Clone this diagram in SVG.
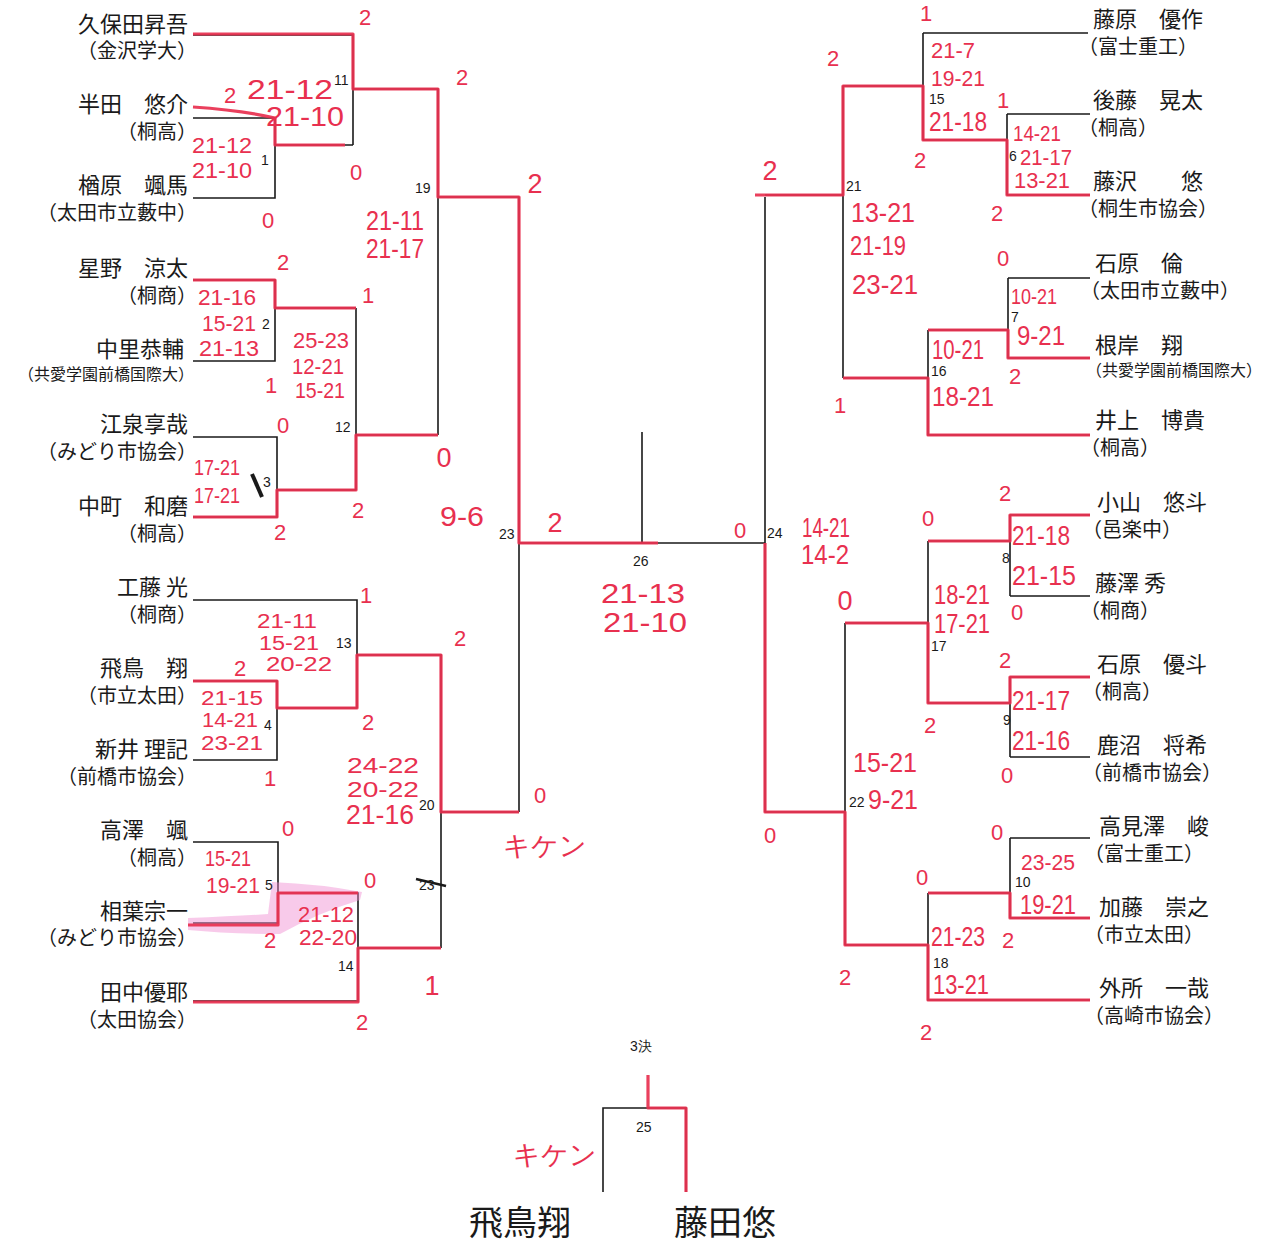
<svg xmlns="http://www.w3.org/2000/svg" width="1284" height="1247" viewBox="0 0 1284 1247">
<style>
.bk{fill:none;stroke:#1a1a1a;stroke-width:1.6}
.rd{fill:none;stroke:#e8304f;stroke-width:3.2;stroke-linejoin:round;opacity:0.92}
.nm{font-family:"Noto Sans CJK JP","Noto Sans",sans-serif;font-size:22px;fill:#1a1a1a}
.af{font-family:"Noto Sans CJK JP","Noto Sans",sans-serif;font-size:20px;fill:#1a1a1a}
.afs{font-family:"Noto Sans CJK JP","Noto Sans",sans-serif;font-size:16px;fill:#1a1a1a}
.L{text-anchor:end}
.mn{font-family:"Liberation Sans",Arial,sans-serif;font-size:14px;fill:#1a1a1a}
.r{font-family:"Liberation Sans",Arial,sans-serif;font-size:22px;fill:#e8304f;text-anchor:middle}
.rs{font-family:"Liberation Sans",Arial,sans-serif;font-size:20px;fill:#e8304f;text-anchor:middle}
.rb{font-family:"Liberation Sans",Arial,sans-serif;font-size:27px;fill:#e8304f;text-anchor:middle}
.hw{font-family:"Noto Sans CJK JP",sans-serif;font-size:34px;fill:#1a1a1a;text-anchor:middle}
</style>
<rect width="1284" height="1247" fill="#ffffff"/>

<g id="connectors">
<path class="bk" d="M193,35 H353 V145 M193,118 H275 V198 H193 M275,145 H353 M353,89 H438 V435 M438,197 H519"/>
<path class="bk" d="M193,280 H275 V361 H193 M275,308 H356 M193,437 H277 V517 H193 M277,490 H356 M356,308 V490 M356,435 H438"/>
<path class="bk" d="M519,197 V812 M519,543 H765 M642,432 V543"/>
<path class="bk" d="M193,600 H357 V708 M193,681 H277 V760 H193 M277,708 H357 M357,655 H441 V948 M441,812 H519"/>
<path class="bk" d="M193,842 H278 V923 H193 M278,893 H358 V1001 H193 M358,948 H441"/>
<path class="bk" d="M765,197 V812 M765,195 H843 M843,86 V378 M843,86 H923 M923,33 V140 M923,33 H1088 M923,140 H1007 M1007,114 V195 M1007,114 H1090 M1007,195 H1090"/>
<path class="bk" d="M843,378 H928 M928,330 V435 H1090 M928,330 H1008 M1008,278 V358 M1008,278 H1090 M1008,358 H1090"/>
<path class="bk" d="M765,812 H845 M845,623 V945 M845,623 H928 M928,541 V703 M928,541 H1010 M928,703 H1010 M1010,515 V596 M1010,515 H1090 M1010,596 H1090 M1010,677 V757 M1010,677 H1090 M1010,757 H1090"/>
<path class="bk" d="M845,945 H928 M928,893 V1000 H1090 M928,893 H1010 M1010,838 V918 M1010,838 H1090 M1010,918 H1090"/>
<path class="bk" d="M603,1192 V1108 H686 V1192"/>
</g>

<g id="winner-marks">
<path d="M272,882 Q320,884 362,892 L360,900 Q320,912 280,934 Q230,934 188,930 L188,918 Q240,916 268,914 Z" fill="#f08ad0" opacity="0.45"/>
<path class="rd" d="M193,34 H353 V89 H438 V197 H519 V543 H658"/>
<path class="rd" d="M193,107 Q240,110 275,118 V145 H345"/>
<path class="rd" d="M193,280 H275 V308 H356"/>
<path class="rd" d="M193,517 H277 V490 H356 V435 H438"/>
<path class="rd" d="M193,681 H277 V708 H357 V655 H441 V812 H519"/>
<path class="rd" d="M188,925 H278 V893 H358"/>
<path class="rd" d="M193,1002 H358 V948 H441"/>
<path class="rd" d="M755,195 H843 V86 H923 V140 H1007 V195 H1090"/>
<path class="rd" d="M843,378 H928 V435 H1090"/>
<path class="rd" d="M928,330 H1008 V358 H1090"/>
<path class="rd" d="M765,543 V812 H845 V945 H928 V1000 H1090"/>
<path class="rd" d="M928,893 H1010 V918 H1090"/>
<path class="rd" d="M845,623 H928 V703 H1010 V677 H1090"/>
<path class="rd" d="M928,541 H1010 V515 H1090"/>
<path class="rd" d="M648,1075 V1108 H686 V1192"/>
<line x1="252" y1="474" x2="262" y2="497" stroke="#1a1a1a" stroke-width="4"/>
</g>

<g id="p-kubota"><text class="nm L" x="188" y="32">久保田昇吾</text><text class="af L" x="197" y="58">（金沢学大）</text></g>
<g id="p-handa"><text class="nm L" x="188" y="112">半田　悠介</text><text class="af L" x="197" y="139">（桐高）</text></g>
<g id="p-narahara"><text class="nm L" x="188" y="193">楢原　颯馬</text><text class="af L" x="197" y="220">（太田市立藪中）</text></g>
<g id="p-hoshino"><text class="nm L" x="188" y="276">星野　涼太</text><text class="af L" x="197" y="303">（桐商）</text></g>
<g id="p-nakazato"><text class="nm L" x="184" y="357">中里恭輔</text><text class="afs L" x="194" y="380">（共愛学園前橋国際大）</text></g>
<g id="p-izumi"><text class="nm L" x="188" y="432">江泉享哉</text><text class="af L" x="197" y="459">（みどり市協会）</text></g>
<g id="p-nakamachi"><text class="nm L" x="188" y="514">中町　和磨</text><text class="af L" x="197" y="541">（桐高）</text></g>
<g id="p-kudo"><text class="nm L" x="188" y="595">工藤 光</text><text class="af L" x="197" y="622">（桐商）</text></g>
<g id="p-asuka"><text class="nm L" x="188" y="676">飛鳥　翔</text><text class="af L" x="197" y="703">（市立太田）</text></g>
<g id="p-arai"><text class="nm L" x="188" y="757">新井 理記</text><text class="af L" x="197" y="784">（前橋市協会）</text></g>
<g id="p-takazawa"><text class="nm L" x="188" y="838">高澤　颯</text><text class="af L" x="197" y="865">（桐高）</text></g>
<g id="p-aiba"><text class="nm L" x="188" y="919">相葉宗一</text><text class="af L" x="197" y="945">（みどり市協会）</text></g>
<g id="p-tanaka"><text class="nm L" x="188" y="1000">田中優耶</text><text class="af L" x="197" y="1027">（太田協会）</text></g>

<g id="p-fujiwara"><text class="nm" x="1093" y="27">藤原　優作</text><text class="af" x="1078" y="54">（富士重工）</text></g>
<g id="p-goto"><text class="nm" x="1093" y="108">後藤　晃太</text><text class="af" x="1078" y="135">（桐高）</text></g>
<g id="p-fujisawa"><text class="nm" x="1093" y="189">藤沢　　悠</text><text class="af" x="1078" y="216">（桐生市協会）</text></g>
<g id="p-ishihara1"><text class="nm" x="1095" y="271">石原　倫</text><text class="af" x="1080" y="298">（太田市立藪中）</text></g>
<g id="p-negishi"><text class="nm" x="1095" y="353">根岸　翔</text><text class="afs" x="1086" y="376">（共愛学園前橋国際大）</text></g>
<g id="p-inoue"><text class="nm" x="1095" y="428">井上　博貴</text><text class="af" x="1080" y="455">（桐高）</text></g>
<g id="p-koyama"><text class="nm" x="1097" y="510">小山　悠斗</text><text class="af" x="1082" y="537">（邑楽中）</text></g>
<g id="p-fujisawa2"><text class="nm" x="1095" y="591">藤澤 秀</text><text class="af" x="1080" y="618">（桐商）</text></g>
<g id="p-ishihara2"><text class="nm" x="1097" y="672">石原　優斗</text><text class="af" x="1082" y="699">（桐高）</text></g>
<g id="p-kanuma"><text class="nm" x="1097" y="753">鹿沼　将希</text><text class="af" x="1082" y="780">（前橋市協会）</text></g>
<g id="p-takamizawa"><text class="nm" x="1099" y="834">高見澤　峻</text><text class="af" x="1084" y="861">（富士重工）</text></g>
<g id="p-kato"><text class="nm" x="1099" y="915">加藤　崇之</text><text class="af" x="1084" y="942">（市立太田）</text></g>
<g id="p-todokoro"><text class="nm" x="1099" y="996">外所　一哉</text><text class="af" x="1084" y="1023">（高崎市協会）</text></g>

<g id="match-numbers">
<text class="mn" x="334" y="85">11</text>
<text class="mn" x="261" y="165">1</text>
<text class="mn" x="415" y="193">19</text>
<text class="mn" x="262" y="329">2</text>
<text class="mn" x="335" y="432">12</text>
<text class="mn" x="263" y="487">3</text>
<text class="mn" x="499" y="539">23</text>
<text class="mn" x="336" y="648">13</text>
<text class="mn" x="264" y="730">4</text>
<text class="mn" x="419" y="810">20</text>
<text class="mn" x="265" y="890">5</text>
<text class="mn" x="338" y="971">14</text>
<text class="mn" x="419" y="890">23</text>
<line x1="416" y1="879" x2="446" y2="886" stroke="#1a1a1a" stroke-width="2.5"/>
<text class="mn" x="633" y="566">26</text>
<text class="mn" x="767" y="538">24</text>
<text class="mn" x="846" y="191">21</text>
<text class="mn" x="929" y="104">15</text>
<text class="mn" x="1009" y="161">6</text>
<text class="mn" x="1011" y="322">7</text>
<text class="mn" x="931" y="376">16</text>
<text class="mn" x="1002" y="563">8</text>
<text class="mn" x="931" y="651">17</text>
<text class="mn" x="1003" y="725">9</text>
<text class="mn" x="849" y="807">22</text>
<text class="mn" x="1015" y="887">10</text>
<text class="mn" x="933" y="968">18</text>
<text class="mn" x="636" y="1132">25</text>
<text class="mn" x="630" y="1051" font-size="15">3決</text>
</g>

<g id="scores-left">
<text class="r" x="365" y="25">2</text>
<text class="r" x="462" y="85">2</text>
<text class="r" x="230" y="103" font-size="18">2</text>
<text class="rb" x="290" y="99" font-size="30" textLength="86" lengthAdjust="spacingAndGlyphs">21-12</text>
<text class="rb" x="305" y="126" font-size="30" textLength="78" lengthAdjust="spacingAndGlyphs">21-10</text>
<text class="r" x="222" y="153" textLength="60" lengthAdjust="spacingAndGlyphs">21-12</text>
<text class="r" x="222" y="178" textLength="60" lengthAdjust="spacingAndGlyphs">21-10</text>
<text class="r" x="356" y="180">0</text>
<text class="r" x="268" y="228">0</text>
<text class="rb" x="535" y="193">2</text>
<text class="rb" x="395" y="230" textLength="58" lengthAdjust="spacingAndGlyphs">21-11</text>
<text class="rb" x="395" y="258" textLength="58" lengthAdjust="spacingAndGlyphs">21-17</text>
<text class="r" x="283" y="270">2</text>
<text class="r" x="368" y="303">1</text>
<text class="r" x="227" y="305" textLength="58" lengthAdjust="spacingAndGlyphs">21-16</text>
<text class="r" x="229" y="331" textLength="54" lengthAdjust="spacingAndGlyphs">15-21</text>
<text class="r" x="229" y="356" textLength="60" lengthAdjust="spacingAndGlyphs">21-13</text>
<text class="r" x="321" y="348" textLength="56" lengthAdjust="spacingAndGlyphs">25-23</text>
<text class="r" x="318" y="374" textLength="52" lengthAdjust="spacingAndGlyphs">12-21</text>
<text class="r" x="320" y="398" textLength="50" lengthAdjust="spacingAndGlyphs">15-21</text>
<text class="r" x="271" y="393">1</text>
<text class="r" x="283" y="433">0</text>
<text class="rb" x="444" y="467">0</text>
<text class="r" x="217" y="475" textLength="46" lengthAdjust="spacingAndGlyphs">17-21</text>
<text class="r" x="217" y="503" textLength="46" lengthAdjust="spacingAndGlyphs">17-21</text>
<text class="r" x="358" y="518">2</text>
<text class="r" x="280" y="540">2</text>
<text class="rb" x="462" y="526" textLength="44" lengthAdjust="spacingAndGlyphs">9-6</text>
<text class="rb" x="555" y="532">2</text>
<text class="r" x="366" y="603">1</text>
<text class="rs" x="287" y="628" textLength="60" lengthAdjust="spacingAndGlyphs">21-11</text>
<text class="rs" x="289" y="650" textLength="60" lengthAdjust="spacingAndGlyphs">15-21</text>
<text class="rs" x="299" y="671" textLength="66" lengthAdjust="spacingAndGlyphs">20-22</text>
<text class="r" x="240" y="676">2</text>
<text class="r" x="460" y="646">2</text>
<text class="rs" x="232" y="705" textLength="62" lengthAdjust="spacingAndGlyphs">21-15</text>
<text class="rs" x="230" y="727" textLength="56" lengthAdjust="spacingAndGlyphs">14-21</text>
<text class="rs" x="232" y="750" textLength="62" lengthAdjust="spacingAndGlyphs">23-21</text>
<text class="r" x="368" y="730">2</text>
<text class="r" x="270" y="786">1</text>
<text class="r" x="383" y="773" textLength="72" lengthAdjust="spacingAndGlyphs">24-22</text>
<text class="r" x="383" y="797" textLength="72" lengthAdjust="spacingAndGlyphs">20-22</text>
<text class="rb" x="380" y="824" font-size="25" textLength="68" lengthAdjust="spacingAndGlyphs">21-16</text>
<text class="r" x="540" y="803">0</text>
<text class="rb" x="545" y="855" font-family="Noto Sans CJK JP,sans-serif" font-size="26">キケン</text>
<text class="r" x="288" y="836">0</text>
<text class="r" x="228" y="866" textLength="46" lengthAdjust="spacingAndGlyphs">15-21</text>
<text class="r" x="233" y="893" textLength="54" lengthAdjust="spacingAndGlyphs">19-21</text>
<text class="r" x="370" y="888">0</text>
<text class="r" x="326" y="922" textLength="56" lengthAdjust="spacingAndGlyphs">21-12</text>
<text class="r" x="328" y="945" textLength="58" lengthAdjust="spacingAndGlyphs">22-20</text>
<text class="r" x="270" y="948">2</text>
<text class="rb" x="432" y="995">1</text>
<text class="r" x="362" y="1030">2</text>
</g>

<g id="scores-center">
<text class="rb" x="643" y="603" font-size="30" textLength="84" lengthAdjust="spacingAndGlyphs">21-13</text>
<text class="rb" x="645" y="632" font-size="30" textLength="84" lengthAdjust="spacingAndGlyphs">21-10</text>
<text class="r" x="740" y="538">0</text>
<text class="rb" x="555" y="1164" font-family="Noto Sans CJK JP,sans-serif" font-size="26">キケン</text>
</g>

<g id="scores-right">
<text class="r" x="926" y="21">1</text>
<text class="r" x="833" y="66">2</text>
<text class="r" x="953" y="58" textLength="44" lengthAdjust="spacingAndGlyphs">21-7</text>
<text class="r" x="958" y="86" textLength="54" lengthAdjust="spacingAndGlyphs">19-21</text>
<text class="rb" x="958" y="131" font-size="26" textLength="58" lengthAdjust="spacingAndGlyphs">21-18</text>
<text class="r" x="1003" y="108">1</text>
<text class="r" x="1037" y="141" textLength="48" lengthAdjust="spacingAndGlyphs">14-21</text>
<text class="r" x="1046" y="165" textLength="52" lengthAdjust="spacingAndGlyphs">21-17</text>
<text class="r" x="1042" y="188" textLength="56" lengthAdjust="spacingAndGlyphs">13-21</text>
<text class="r" x="920" y="168">2</text>
<text class="rb" x="770" y="180">2</text>
<text class="rb" x="883" y="222" textLength="64" lengthAdjust="spacingAndGlyphs">13-21</text>
<text class="rb" x="878" y="255" textLength="56" lengthAdjust="spacingAndGlyphs">21-19</text>
<text class="rb" x="885" y="294" textLength="66" lengthAdjust="spacingAndGlyphs">23-21</text>
<text class="r" x="997" y="221">2</text>
<text class="r" x="1003" y="266">0</text>
<text class="r" x="1034" y="304" textLength="46" lengthAdjust="spacingAndGlyphs">10-21</text>
<text class="rb" x="1041" y="345" textLength="48" lengthAdjust="spacingAndGlyphs">9-21</text>
<text class="rb" x="958" y="359" textLength="52" lengthAdjust="spacingAndGlyphs">10-21</text>
<text class="rb" x="963" y="406" textLength="62" lengthAdjust="spacingAndGlyphs">18-21</text>
<text class="r" x="1015" y="384" font-size="18">2</text>
<text class="r" x="840" y="413">1</text>
<text class="rb" x="826" y="537" font-size="25" textLength="48" lengthAdjust="spacingAndGlyphs">14-21</text>
<text class="rb" x="825" y="564" font-size="25" textLength="48" lengthAdjust="spacingAndGlyphs">14-2</text>
<text class="r" x="1005" y="501">2</text>
<text class="r" x="928" y="526">0</text>
<text class="rb" x="1041" y="545" textLength="58" lengthAdjust="spacingAndGlyphs">21-18</text>
<text class="rb" x="1044" y="585" textLength="64" lengthAdjust="spacingAndGlyphs">21-15</text>
<text class="rb" x="845" y="610">0</text>
<text class="rb" x="962" y="604" font-size="25" textLength="56" lengthAdjust="spacingAndGlyphs">18-21</text>
<text class="rb" x="962" y="633" font-size="25" textLength="56" lengthAdjust="spacingAndGlyphs">17-21</text>
<text class="r" x="1017" y="620">0</text>
<text class="r" x="1005" y="668">2</text>
<text class="rb" x="1041" y="710" textLength="58" lengthAdjust="spacingAndGlyphs">21-17</text>
<text class="rb" x="1041" y="750" textLength="58" lengthAdjust="spacingAndGlyphs">21-16</text>
<text class="r" x="930" y="733">2</text>
<text class="r" x="1007" y="783">0</text>
<text class="rb" x="885" y="772" textLength="64" lengthAdjust="spacingAndGlyphs">15-21</text>
<text class="rb" x="893" y="809" textLength="50" lengthAdjust="spacingAndGlyphs">9-21</text>
<text class="r" x="770" y="843">0</text>
<text class="r" x="997" y="840">0</text>
<text class="r" x="1048" y="870" textLength="54" lengthAdjust="spacingAndGlyphs">23-25</text>
<text class="r" x="922" y="885">0</text>
<text class="rb" x="1048" y="914" textLength="56" lengthAdjust="spacingAndGlyphs">19-21</text>
<text class="rb" x="958" y="946" textLength="54" lengthAdjust="spacingAndGlyphs">21-23</text>
<text class="r" x="1008" y="948">2</text>
<text class="r" x="845" y="985">2</text>
<text class="rb" x="961" y="994" textLength="56" lengthAdjust="spacingAndGlyphs">13-21</text>
<text class="r" x="926" y="1040">2</text>
</g>

<g id="third-place-names">
<text class="hw" x="520" y="1235">飛鳥翔</text>
<text class="hw" x="725" y="1235">藤田悠</text>
</g>
</svg>
